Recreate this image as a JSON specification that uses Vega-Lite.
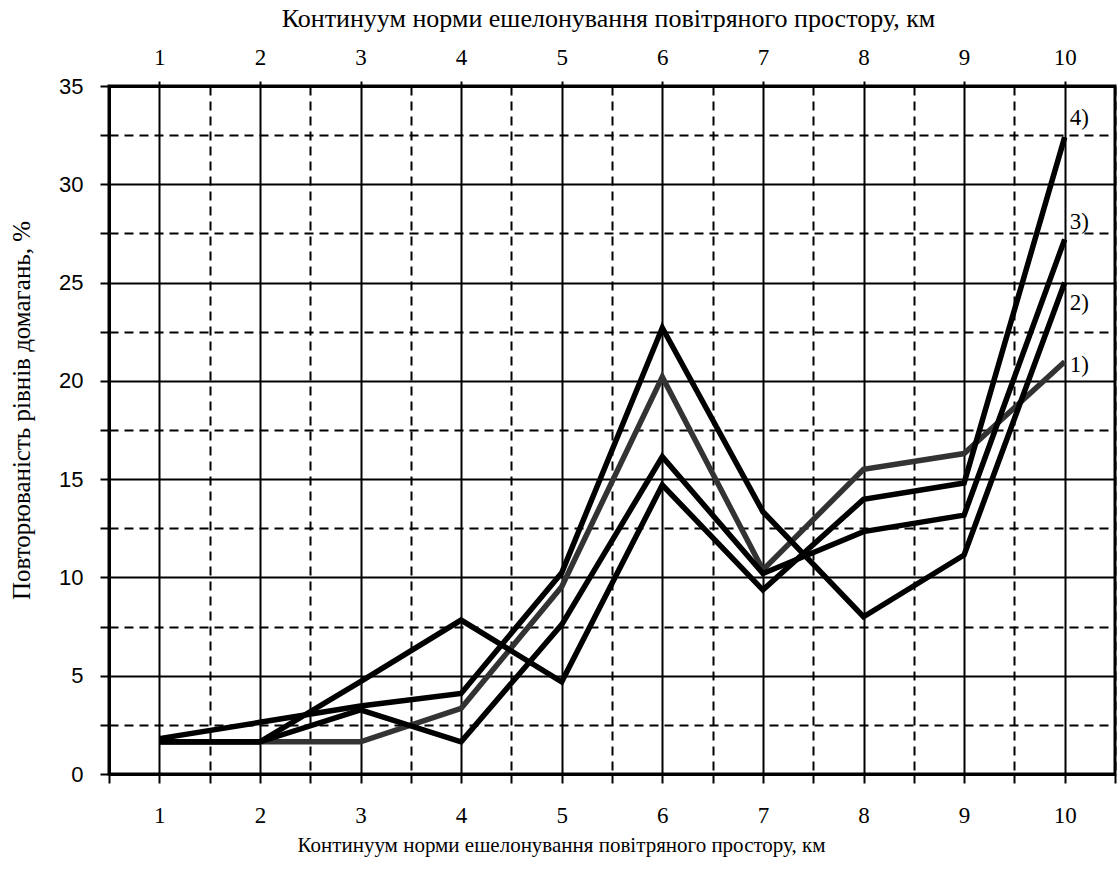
{
  "$schema": "https://vega.github.io/schema/vega-lite/v6.json",
  "width": 1006,
  "height": 688,
  "autosize": {"type": "none"},
  "padding": {"left": 109, "top": 86, "right": 3, "bottom": 95},
  "background": "white",
  "config": {
    "view": {"stroke": "black", "strokeWidth": 3},
    "axis": {"domainColor": "black", "domainWidth": 3, "tickColor": "black", "tickWidth": 2, "labelColor": "black", "titleColor": "black", "titleFontWeight": "normal"}
  },
  "datasets": {
    "series": [
      {"series": "1)", "x": 1, "y": 1.64}, {"series": "1)", "x": 2, "y": 1.64}, {"series": "1)", "x": 3, "y": 1.64}, {"series": "1)", "x": 4, "y": 3.34}, {"series": "1)", "x": 5, "y": 9.53},
      {"series": "1)", "x": 6, "y": 20.2}, {"series": "1)", "x": 7, "y": 10.38}, {"series": "1)", "x": 8, "y": 15.5}, {"series": "1)", "x": 9, "y": 16.3}, {"series": "1)", "x": 10, "y": 20.97},
      {"series": "2)", "x": 1, "y": 1.8}, {"series": "2)", "x": 2, "y": 2.63}, {"series": "2)", "x": 3, "y": 3.46}, {"series": "2)", "x": 4, "y": 4.1}, {"series": "2)", "x": 5, "y": 10.24},
      {"series": "2)", "x": 6, "y": 22.7}, {"series": "2)", "x": 7, "y": 13.34}, {"series": "2)", "x": 8, "y": 8.0}, {"series": "2)", "x": 9, "y": 11.14}, {"series": "2)", "x": 10, "y": 25.0},
      {"series": "3)", "x": 1, "y": 1.64}, {"series": "3)", "x": 2, "y": 1.64}, {"series": "3)", "x": 3, "y": 3.26}, {"series": "3)", "x": 4, "y": 1.64}, {"series": "3)", "x": 5, "y": 7.6},
      {"series": "3)", "x": 6, "y": 16.14}, {"series": "3)", "x": 7, "y": 10.2}, {"series": "3)", "x": 8, "y": 12.33}, {"series": "3)", "x": 9, "y": 13.17}, {"series": "3)", "x": 10, "y": 27.2},
      {"series": "4)", "x": 1, "y": 1.64}, {"series": "4)", "x": 2, "y": 1.64}, {"series": "4)", "x": 3, "y": 4.7}, {"series": "4)", "x": 4, "y": 7.83}, {"series": "4)", "x": 5, "y": 4.69},
      {"series": "4)", "x": 6, "y": 14.7}, {"series": "4)", "x": 7, "y": 9.36}, {"series": "4)", "x": 8, "y": 13.97}, {"series": "4)", "x": 9, "y": 14.8}, {"series": "4)", "x": 10, "y": 32.4}
    ],
    "labels": [
      {"x": 10, "y": 33.35, "label": "4)"},
      {"x": 10, "y": 28.1, "label": "3)"},
      {"x": 10, "y": 23.95, "label": "2)"},
      {"x": 10, "y": 20.8, "label": "1)"}
    ]
  },
  "layer": [
    {
      "data": {"name": "series"},
      "mark": {"type": "line", "strokeWidth": 5.5, "strokeJoin": "miter", "strokeCap": "butt"},
      "encoding": {
        "x": {
          "field": "x", "type": "quantitative",
          "scale": {"domain": [0.5, 10.5], "nice": false, "zero": false},
          "axis": {
            "orient": "bottom",
            "values": [0.5, 1, 1.5, 2, 2.5, 3, 3.5, 4, 4.5, 5, 5.5, 6, 6.5, 7, 7.5, 8, 8.5, 9, 9.5, 10, 10.5],
            "labelExpr": "datum.value % 1 === 0 ? format(datum.value, 'd') : ''",
            "grid": true, "gridColor": "black", "gridWidth": 2,
            "gridDash": {"condition": {"test": "datum.value % 1 !== 0", "value": [9, 6]}, "value": []},
            "tickSize": 9,
            "labelFont": "Liberation Serif", "labelFontSize": 23, "labelBaseline": "middle", "labelPadding": 32,
            "labelOverlap": false,
            "title": "Континуум норми ешелонування повітряного простору, км",
            "titleFont": "Liberation Serif", "titleFontSize": 21,
            "titleX": 452, "titleY": 71, "titleBaseline": "middle", "titleAnchor": null
          }
        },
        "y": {
          "field": "y", "type": "quantitative",
          "scale": {"domain": [0, 35], "nice": false},
          "axis": {
            "orient": "left",
            "values": [0, 2.5, 5, 7.5, 10, 12.5, 15, 17.5, 20, 22.5, 25, 27.5, 30, 32.5, 35],
            "labelExpr": "datum.value % 5 === 0 ? datum.label : ''",
            "grid": true, "gridColor": "black", "gridWidth": 2,
            "gridDash": {"condition": {"test": "datum.value % 5 !== 0", "value": [9, 6]}, "value": []},
            "tickSize": 9,
            "labelFont": "Liberation Sans", "labelFontSize": 22, "labelPadding": 17,
            "labelOverlap": false,
            "title": "Повторюваність рівнів домагань, %",
            "titleFont": "Liberation Serif", "titleFontSize": 25,
            "titleX": -88, "titleY": 324, "titleBaseline": "middle", "titleAngle": -90
          }
        },
        "color": {
          "field": "series", "type": "nominal",
          "scale": {"domain": ["1)", "2)", "3)", "4)"], "range": ["#333333", "#000000", "#000000", "#000000"]},
          "legend": null
        }
      }
    },
    {
      "data": {"name": "labels"},
      "mark": {"type": "text", "align": "left", "baseline": "middle", "dx": 5, "font": "Liberation Serif", "fontSize": 23, "color": "black"},
      "encoding": {
        "x": {
          "field": "x", "type": "quantitative",
          "scale": {"domain": [0.5, 10.5], "nice": false, "zero": false},
          "axis": {
            "orient": "top",
            "values": [1, 2, 3, 4, 5, 6, 7, 8, 9, 10],
            "labelExpr": "format(datum.value, 'd')",
            "grid": false,
            "tickSize": 5,
            "labelFont": "Liberation Serif", "labelFontSize": 23, "labelBaseline": "middle", "labelPadding": 24,
            "labelOverlap": false,
            "title": "Континуум норми ешелонування повітряного простору, км",
            "titleFont": "Liberation Serif", "titleFontSize": 26,
            "titleX": 499, "titleY": -68, "titleBaseline": "middle", "titleAnchor": null
          }
        },
        "y": {"field": "y", "type": "quantitative", "scale": {"domain": [0, 35], "nice": false}, "axis": null},
        "text": {"field": "label"}
      }
    }
  ],
  "resolve": {"axis": {"x": "independent", "y": "independent"}}
}
